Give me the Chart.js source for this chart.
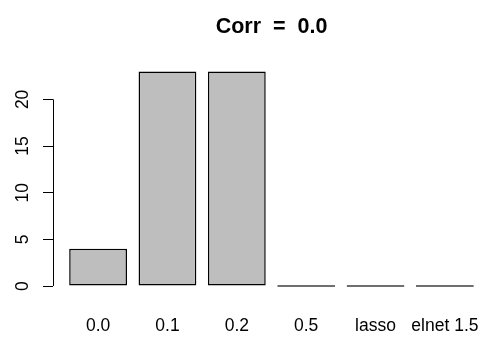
<!DOCTYPE html>
<html>
<head>
<meta charset="utf-8">
<script src="https://cdn.jsdelivr.net/npm/chart.js@4"></script>
<style>
  html, body { margin: 0; padding: 0; background: #fff; overflow: hidden; }
  #wrap { width: 490px; height: 340px; }
</style>
</head>
<body>
<div id="wrap"><canvas id="myChart" width="490" height="340"></canvas></div>
<script>
const categories = ['0.0', '0.1', '0.2', '0.5', 'lasso', 'elnet 1.5'];
const counts = [4, 23, 23, 0, 0, 0];
const yTicks = [0, 5, 10, 15, 20];

// barplot layout: unit-wide bars with 0.2 space between them
const barWidth = 1;
const barSpace = 0.2;
const centers = categories.map((c, i) => barSpace + i * (barWidth + barSpace) + barWidth / 2);

// axis ranges padded by 4% the way base graphics does
const xLo = barSpace;
const xHi = categories.length * (barWidth + barSpace);
const xPad = (xHi - xLo) * 0.04;
const yMax = Math.max(...counts);
const yPad = yMax * 0.04;

const font = 'Liberation Sans, Arial, Helvetica, sans-serif';
Chart.defaults.color = '#000';
Chart.defaults.font.family = font;

// left axis line only spans the labelled ticks
const axisLine = {
  id: 'axisLine',
  afterDraw(chart) {
    const y = chart.scales.y;
    const c = chart.ctx;
    const x = Math.round(chart.chartArea.left) + 0.5;
    c.save();
    c.strokeStyle = '#000';
    c.lineWidth = 1;
    c.beginPath();
    c.moveTo(x, y.getPixelForValue(yTicks[0]));
    c.lineTo(x, y.getPixelForValue(yTicks[yTicks.length - 1]));
    c.stroke();
    c.restore();
  }
};

const ctx = document.getElementById('myChart').getContext('2d');
const chart = new Chart(ctx, {
  type: 'bar',
  data: {
    datasets: [{
      data: centers.map((x, i) => ({ x: x, y: counts[i] })),
      backgroundColor: '#bebebe',
      borderColor: '#000',
      borderWidth: 1.5,
      borderSkipped: false,
      minBarLength: 1.5,
      categoryPercentage: barWidth / (barWidth + barSpace),
      barPercentage: 1
    }]
  },
  options: {
    responsive: false,
    animation: false,
    devicePixelRatio: 1,
    layout: { padding: 0 },
    plugins: {
      legend: { display: false },
      tooltip: { enabled: false },
      title: {
        display: true,
        text: 'Corr  =  0.0',
        fullSize: false,
        color: '#000',
        font: { family: font, size: 21.5, weight: 'bold', lineHeight: 1.2 },
        padding: { top: 14, bottom: 23 }
      }
    },
    scales: {
      x: {
        type: 'linear',
        offset: false,
        min: xLo - xPad,
        max: xHi + xPad,
        grid: { display: false, drawTicks: false, offset: false },
        border: { display: false },
        afterBuildTicks: (scale) => {
          scale.ticks = centers.map(v => ({ value: v }));
        },
        afterFit: (scale) => {
          scale.height = 45.4;
          scale.paddingLeft = 0;
          scale.paddingRight = 0;
        },
        ticks: {
          autoSkip: false,
          maxRotation: 0,
          minRotation: 0,
          padding: 21,
          font: { family: font, size: 17.5 },
          callback: (v, i) => categories[i]
        }
      },
      y: {
        min: -yPad,
        max: yMax + yPad,
        grid: { display: true, drawOnChartArea: false, drawTicks: true, tickLength: 10, color: '#000', lineWidth: 1 },
        border: { display: false },
        afterBuildTicks: (scale) => {
          scale.ticks = yTicks.map(v => ({ value: v }));
        },
        afterFit: (scale) => {
          scale.width = 53;
          scale.paddingTop = 0;
          scale.paddingBottom = 0;
        },
        ticks: {
          minRotation: 90,
          maxRotation: 90,
          crossAlign: 'center',
          padding: 10,
          font: { family: font, size: 17.5 }
        }
      }
    }
  },
  plugins: [axisLine]
});
</script>
</body>
</html>
